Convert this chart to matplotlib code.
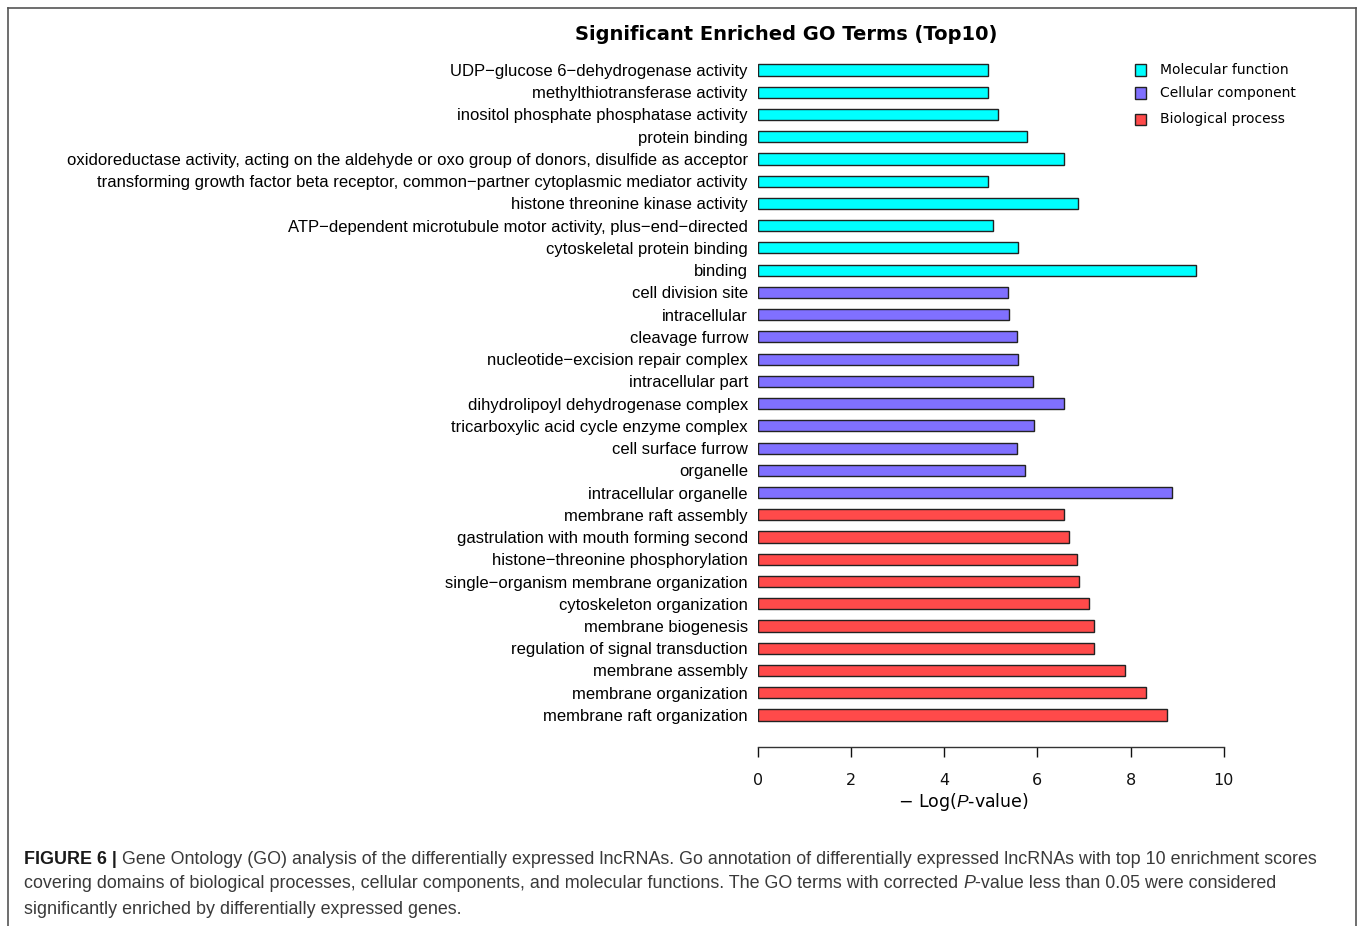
import numpy as np
import matplotlib.pyplot as plt
from matplotlib.patches import Rectangle
from matplotlib.lines import Line2D

plt.rcParams['font.family'] = ['Liberation Sans', 'DejaVu Sans']
plt.rcParams['mathtext.fontset'] = 'custom'
plt.rcParams['mathtext.it'] = 'Liberation Sans:italic'
plt.rcParams['mathtext.bf'] = 'Liberation Sans:bold'
plt.rcParams['mathtext.rm'] = 'Liberation Sans'

# GO terms, top to bottom
mf_terms = ["UDP−glucose 6−dehydrogenase activity",
            "methylthiotransferase activity",
            "inositol phosphate phosphatase activity",
            "protein binding",
            "oxidoreductase activity, acting on the aldehyde or oxo group of donors, disulfide as acceptor",
            "transforming growth factor beta receptor, common−partner cytoplasmic mediator activity",
            "histone threonine kinase activity",
            "ATP−dependent microtubule motor activity, plus−end−directed",
            "cytoskeletal protein binding",
            "binding"]
mf_vals = [4.94, 4.94, 5.16, 5.77, 6.58, 4.94, 6.87, 5.04, 5.59, 9.41]

cc_terms = ["cell division site",
            "intracellular",
            "cleavage furrow",
            "nucleotide−excision repair complex",
            "intracellular part",
            "dihydrolipoyl dehydrogenase complex",
            "tricarboxylic acid cycle enzyme complex",
            "cell surface furrow",
            "organelle",
            "intracellular organelle"]
cc_vals = [5.38, 5.40, 5.56, 5.58, 5.90, 6.58, 5.92, 5.56, 5.74, 8.88]

bp_terms = ["membrane raft assembly",
            "gastrulation with mouth forming second",
            "histone−threonine phosphorylation",
            "single−organism membrane organization",
            "cytoskeleton organization",
            "membrane biogenesis",
            "regulation of signal transduction",
            "membrane assembly",
            "membrane organization",
            "membrane raft organization"]
bp_vals = [6.58, 6.67, 6.86, 6.89, 7.12, 7.21, 7.21, 7.89, 8.33, 8.78]

categories = ["Molecular function", "Cellular component", "Biological process"]
colors = ["#00FFFF", "#8070FF", "#FF4A4A"]

terms = mf_terms + cc_terms + bp_terms
vals = mf_vals + cc_vals + bp_vals
bar_colors = [colors[0]] * 10 + [colors[1]] * 10 + [colors[2]] * 10
ypos = np.arange(len(terms))[::-1]

fig = plt.figure(figsize=(13.6, 9.26), dpi=100)
ax = fig.add_axes([0.5571, 0.1933, 0.3427, 0.7431])

ax.barh(ypos, vals, height=0.5, color=bar_colors, edgecolor="#222222", linewidth=1.0)
ax.set_xlim(0, 10)
ax.set_ylim(-1.44, 29.5)
ax.set_yticks(ypos)
ax.set_yticklabels(terms, fontsize=12)
ax.tick_params(axis='y', length=0, pad=7)
ax.set_xticks([0, 2, 4, 6, 8, 10])
ax.tick_params(axis='x', direction='out', length=7.5, width=1, pad=11,
               labelsize=11.5, colors="#111111")
for lab in ax.get_xticklabels():
    lab.set_family('DejaVu Sans')
for s in ['left', 'top', 'right']:
    ax.spines[s].set_visible(False)
ax.spines['bottom'].set_linewidth(1)
ax.spines['bottom'].set_color("#333333")
ax.set_xlabel("− Log($\\it{P}$-value)", fontsize=12.5, family='DejaVu Sans')
ax.xaxis.set_label_coords(0.4407, -0.064)

fig.text(0.5783, 0.963, "Significant Enriched GO Terms (Top10)", ha='center', va='center',
         fontsize=14, fontweight='bold', family='DejaVu Sans')

# legend
leg_y = [0.9245, 0.9, 0.871]
for c, col, y in zip(categories, colors, leg_y):
    fig.add_artist(Rectangle((0.8345, y - 0.0065), 0.0085, 0.0125, transform=fig.transFigure,
                             facecolor=col, edgecolor="#222222", linewidth=1))
    fig.text(0.853, y, c, ha='left', va='center', fontsize=10, family='DejaVu Sans')

# frame
frame_kw = dict(transform=fig.transFigure, color="#555555", linewidth=1.2)
fig.add_artist(Line2D([8 / 1360, 8 / 1360], [0, 1 - 8 / 926], **frame_kw))
fig.add_artist(Line2D([8 / 1360, 1356 / 1360], [1 - 8 / 926, 1 - 8 / 926], **frame_kw))
fig.add_artist(Line2D([1356 / 1360, 1356 / 1360], [0, 1 - 8 / 926], **frame_kw))

# caption, written piece by piece so bold and italic runs sit inline
cap_size = 12.9
cap_x = 24 / 1360
cap_lines = [
    [("FIGURE 6 |", 'bold', 'normal', "#1a1a1a"),
     (" Gene Ontology (GO) analysis of the differentially expressed lncRNAs. Go annotation of "
      "differentially expressed lncRNAs with top 10 enrichment scores", 'normal', 'normal', "#3a3a3a")],
    [("covering domains of biological processes, cellular components, and molecular functions. "
      "The GO terms with corrected ", 'normal', 'normal', "#3a3a3a"),
     ("P", 'normal', 'italic', "#3a3a3a"),
     ("-value less than 0.05 were considered", 'normal', 'normal', "#3a3a3a")],
    [("significantly enriched by differentially expressed genes.", 'normal', 'normal', "#3a3a3a")],
]
fig.canvas.draw()
renderer = fig.canvas.get_renderer()
for i, pieces in enumerate(cap_lines):
    x0 = cap_x
    y0 = 1 - (859 + 25 * i) / 926
    for txt, weight, style, col in pieces:
        t = fig.text(x0, y0, txt, ha='left', va='center', fontsize=cap_size,
                     fontweight=weight, fontstyle=style, color=col)
        bb = t.get_window_extent(renderer).transformed(fig.transFigure.inverted())
        x0 = bb.x1

fig.savefig("out.png", dpi=100)
